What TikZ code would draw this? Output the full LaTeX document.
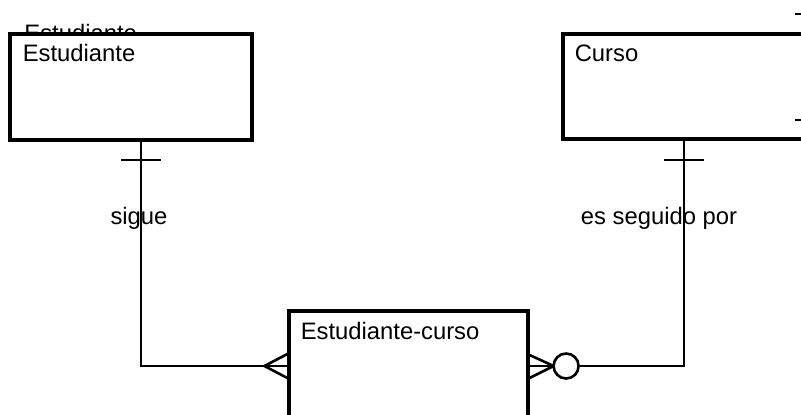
\documentclass[tikz,border=0pt]{standalone}
\usepackage{fontspec}
\setmainfont{Liberation Sans}
\usetikzlibrary{positioning}
\begin{document}
\begin{tikzpicture}[x=0.5pt, y=-0.5pt, font=\fontsize{11.9}{13}\selectfont, line join=miter,
	entity/.style={draw, fill=white, line width=1.6pt, inner sep=0pt},
	ename/.style={anchor=base west, inner sep=0pt},
	rel/.style={line width=1.3pt},
	rlabel/.style={anchor=base, inner sep=0pt}]
	\useasboundingbox (0,0) rectangle (801,414);
	\clip (0,0) rectangle (801,414);
	\path
	(141,366) coordinate (L)
	(684,366) coordinate (R)
	(141,160) coordinate (Lt)
	(684,160) coordinate (Rt)
	(795,14) coordinate (T1)
	(795,120) coordinate (T2)
		;
	\node[ename] (hidden) at (24,41) {Estudiante};
	\node[entity, minimum width=121pt, minimum height=53pt] (est) at (131,87) {};
	\node[entity, minimum width=132pt, minimum height=52.5pt] (curso) at (695,86.5) {};
	\node[entity, minimum width=119.5pt, minimum height=64.5pt] (ec) at (408.5,375.5) {};
	\node[ename] (estname) at ([shift={(14,29)}]est.north west) {Estudiante};
	\node[ename] (cursoname) at ([shift={(13,29)}]curso.north west) {Curso};
	\node[ename] (ecname) at ([shift={(13,30)}]ec.north west) {Estudiante-curso};
	% sigue
	\draw[rel] (L |- est.south) -- (L) -- (L -| ec.west);
	\draw[rel] ([xshift=-10pt]Lt) -- ([xshift=10pt]Lt);
	\draw[rel] (L -| ec.west) ++(0,-12) -- ++(-23,12) -- ++(23,12);
	% es seguido por
	\path (R -| ec.east) ++(36.5,0) coordinate (O);
	\draw[rel] (R |- curso.south) -- (R) -- (R -| ec.east);
	\draw[rel] ([xshift=-10pt]Rt) -- ([xshift=10pt]Rt);
	\draw[rel] (R -| ec.east) ++(0,-11) -- ++(24,11) -- ++(-24,12);
	\draw[rel, fill=white] (O) circle (6.25pt);
	\node[rlabel] (sigue) at (139,224) {sigue};
	\node[rlabel] (seguido) at (659,224) {es seguido por};
	\draw[rel] (T1) -- ++(10,0) (T2) -- ++(10,0);
\end{tikzpicture}
\end{document}
